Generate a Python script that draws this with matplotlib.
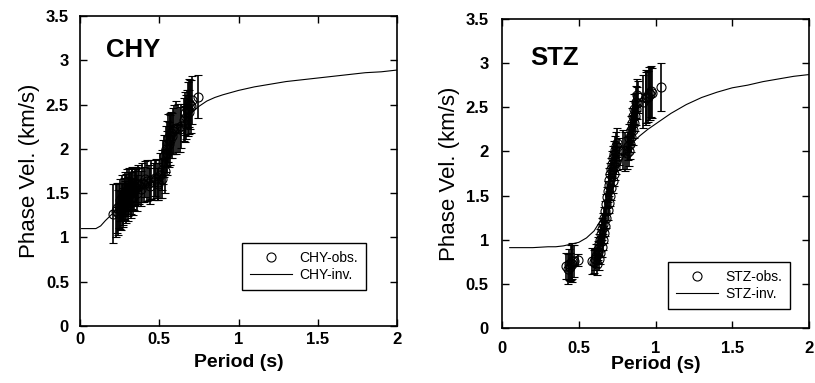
import matplotlib
matplotlib.use('Agg')
import matplotlib.pyplot as plt

plt.rcParams['font.family'] = ['Liberation Sans', 'DejaVu Sans']

# CHY: observed phase velocities (period s, velocity km/s, error km/s)
chy_period = [0.210, 0.225, 0.235, 0.245, 0.255, 0.262, 0.270, 0.278, 0.285, 0.292,
              0.300, 0.308, 0.315, 0.322, 0.330, 0.338, 0.345, 0.355, 0.365, 0.375,
              0.390, 0.405, 0.420, 0.435, 0.450, 0.465, 0.480, 0.495, 0.505, 0.515,
              0.525, 0.532, 0.540, 0.548, 0.555, 0.565, 0.575, 0.585, 0.595, 0.605,
              0.620, 0.640, 0.655, 0.665, 0.675, 0.685, 0.695, 0.705, 0.745,
              # second pass over the same band
              0.240, 0.250, 0.258, 0.266, 0.274, 0.282, 0.290, 0.298, 0.305, 0.312,
              0.320, 0.328, 0.336, 0.350, 0.360, 0.385, 0.410, 0.440, 0.470, 0.490,
              0.520, 0.535, 0.550, 0.560, 0.570, 0.580, 0.630, 0.660, 0.670, 0.680,
              0.690, 0.700]
chy_vel = [1.27, 1.30, 1.33, 1.36, 1.32, 1.40, 1.38, 1.44, 1.42, 1.48,
           1.46, 1.50, 1.52, 1.50, 1.55, 1.53, 1.57, 1.56, 1.60, 1.58,
           1.62, 1.60, 1.64, 1.62, 1.65, 1.63, 1.66, 1.63, 1.70, 1.76,
           1.85, 1.92, 2.00, 2.06, 2.12, 2.15, 2.18, 2.20, 2.22, 2.24,
           2.24, 2.26, 2.33, 2.40, 2.45, 2.52, 2.50, 2.55, 2.59,
           1.28, 1.42, 1.30, 1.46, 1.34, 1.50, 1.38, 1.54, 1.40, 1.56,
           1.44, 1.58, 1.46, 1.60, 1.50, 1.55, 1.66, 1.58, 1.67, 1.60,
           1.66, 1.75, 1.95, 2.05, 2.10, 2.15, 2.22, 2.28, 2.36, 2.45,
           2.42, 2.48]
chy_err = [0.33, 0.30, 0.28, 0.25, 0.22, 0.22, 0.24, 0.23, 0.22, 0.24,
           0.22, 0.24, 0.22, 0.24, 0.23, 0.22, 0.20, 0.21, 0.22, 0.20,
           0.22, 0.20, 0.23, 0.20, 0.22, 0.21, 0.22, 0.21, 0.25, 0.23,
           0.25, 0.24, 0.26, 0.25, 0.27, 0.25, 0.24, 0.26, 0.28, 0.30,
           0.27, 0.25, 0.24, 0.24, 0.22, 0.27, 0.28, 0.27, 0.24,
           0.25, 0.24, 0.22, 0.25, 0.22, 0.24, 0.22, 0.23, 0.22, 0.22,
           0.22, 0.21, 0.21, 0.20, 0.20, 0.20, 0.20, 0.20, 0.20, 0.18,
           0.22, 0.25, 0.25, 0.25, 0.28, 0.25, 0.25, 0.20, 0.25, 0.30,
           0.25, 0.30]

# CHY: inverted model dispersion curve
chy_inv_period = [0.01, 0.05, 0.10, 0.13, 0.16, 0.20, 0.25, 0.30, 0.35, 0.40, 0.45,
                  0.50, 0.53, 0.56, 0.60, 0.65, 0.70, 0.75, 0.80, 0.85, 0.90, 1.0,
                  1.1, 1.2, 1.3, 1.4, 1.5, 1.6, 1.7, 1.8, 1.9, 2.0]
chy_inv_vel = [1.10, 1.10, 1.10, 1.13, 1.19, 1.26, 1.36, 1.45, 1.52, 1.57, 1.61,
               1.66, 1.78, 1.98, 2.18, 2.30, 2.40, 2.48, 2.54, 2.58, 2.61, 2.66,
               2.70, 2.73, 2.76, 2.78, 2.80, 2.82, 2.84, 2.86, 2.87, 2.89]

# STZ: observed phase velocities
stz_period = [0.415, 0.428, 0.438, 0.448, 0.458, 0.468, 0.494, 0.585, 0.600, 0.608,
              0.615, 0.622, 0.628, 0.634, 0.640, 0.646, 0.652, 0.658, 0.664, 0.670,
              0.676, 0.682, 0.688, 0.694, 0.700, 0.706, 0.712, 0.718, 0.724, 0.730,
              0.736, 0.742, 0.750, 0.785, 0.800, 0.815, 0.822, 0.830, 0.838, 0.846,
              0.854, 0.862, 0.870, 0.878, 0.920, 0.935, 0.950, 0.965, 0.980, 1.035,
              # second pass over the same band
              0.440, 0.455, 0.620, 0.630, 0.640, 0.648, 0.656, 0.664, 0.672, 0.680,
              0.688, 0.696, 0.704, 0.712, 0.720, 0.728, 0.736, 0.744, 0.752, 0.760,
              0.826, 0.834, 0.842, 0.850, 0.858, 0.866, 0.874, 0.882, 0.888, 0.940,
              0.955, 0.970]
stz_vel = [0.70, 0.67, 0.72, 0.74, 0.73, 0.76, 0.77, 0.76, 0.75, 0.78,
           0.82, 0.86, 0.90, 0.95, 1.00, 1.06, 1.12, 1.18, 1.25, 1.32,
           1.40, 1.48, 1.55, 1.62, 1.68, 1.74, 1.80, 1.86, 1.92, 1.97,
           2.02, 2.06, 2.10, 2.02, 2.00, 1.98, 2.06, 2.15, 2.24, 2.32,
           2.40, 2.48, 2.56, 2.64, 2.56, 2.60, 2.62, 2.65, 2.66, 2.73,
           0.69, 0.76, 0.72, 0.78, 0.85, 0.92, 1.00, 1.08, 1.16, 1.25,
           1.34, 1.42, 1.50, 1.58, 1.66, 1.74, 1.82, 1.88, 1.94, 2.00,
           2.00, 2.08, 2.16, 2.24, 2.32, 2.40, 2.48, 2.55, 2.62, 2.62,
           2.66, 2.68]
stz_err = [0.15, 0.17, 0.18, 0.20, 0.21, 0.18, 0.07, 0.15, 0.13, 0.12,
           0.13, 0.12, 0.13, 0.12, 0.12, 0.12, 0.12, 0.12, 0.12, 0.12,
           0.12, 0.12, 0.12, 0.12, 0.13, 0.13, 0.13, 0.14, 0.14, 0.15,
           0.15, 0.16, 0.16, 0.22, 0.22, 0.18, 0.16, 0.16, 0.16, 0.17,
           0.17, 0.17, 0.18, 0.18, 0.30, 0.30, 0.29, 0.30, 0.28, 0.27,
           0.16, 0.20, 0.12, 0.12, 0.12, 0.12, 0.12, 0.12, 0.12, 0.12,
           0.12, 0.12, 0.12, 0.13, 0.13, 0.13, 0.14, 0.14, 0.15, 0.15,
           0.17, 0.17, 0.17, 0.17, 0.17, 0.17, 0.18, 0.18, 0.18, 0.30,
           0.30, 0.29]

# STZ: inverted model dispersion curve
stz_inv_period = [0.05, 0.10, 0.20, 0.30, 0.35, 0.40, 0.45, 0.50, 0.55, 0.60, 0.65,
                  0.70, 0.75, 0.80, 0.85, 0.90, 0.95, 1.0, 1.1, 1.2, 1.3, 1.4,
                  1.5, 1.6, 1.7, 1.8, 1.9, 2.0]
stz_inv_vel = [0.91, 0.91, 0.91, 0.92, 0.92, 0.93, 0.95, 0.97, 1.02, 1.10, 1.24,
               1.48, 1.78, 1.98, 2.10, 2.18, 2.25, 2.31, 2.43, 2.53, 2.61, 2.67,
               2.72, 2.75, 2.79, 2.82, 2.85, 2.87]

fig = plt.figure(figsize=(8.15, 3.83), dpi=100)
ax1 = fig.add_axes([0.0982, 0.1488, 0.389, 0.8094])
ax2 = fig.add_axes([0.616, 0.1436, 0.3767, 0.807])


def draw_panel(ax, name, period, vel, err, inv_period, inv_vel,
               name_xy, leg_anchor, xpad, ypad, xlabelpad):
    ax.plot(inv_period, inv_vel, color='k', lw=0.8, zorder=3)
    ax.errorbar(period, vel, yerr=err, fmt='o', ms=6.5, mfc='none', mec='k', mew=0.8,
                ecolor='k', elinewidth=1.2, capsize=2.6, capthick=1.0, zorder=4)
    ax.plot([], [], 'o', ms=6.5, mfc='none', mec='k', mew=0.8, label=name + '-obs.')
    ax.plot([], [], color='k', lw=0.8, label=name + '-inv.')

    ax.set_xlim(0, 2)
    ax.set_ylim(0, 3.5)
    ax.set_xticks([0, 0.5, 1, 1.5, 2])
    ax.set_xticklabels(['0', '0.5', '1', '1.5', '2'])
    ax.set_yticks([0, 0.5, 1, 1.5, 2, 2.5, 3, 3.5])
    ax.set_yticklabels(['0', '0.5', '1', '1.5', '2', '2.5', '3', '3.5'])
    ax.tick_params(direction='in', length=5, width=1, top=True, right=True,
                   labelsize=12)
    ax.tick_params(axis='x', pad=xpad)
    ax.tick_params(axis='y', pad=ypad)
    for lab in ax.get_xticklabels() + ax.get_yticklabels():
        lab.set_fontweight('bold')
    for sp in ax.spines.values():
        sp.set_linewidth(1.2)

    ax.set_xlabel('Period (s)', fontsize=14, fontweight='bold', labelpad=xlabelpad)
    ax.set_ylabel('Phase Vel. (km/s)', fontsize=16)
    ax.text(name_xy[0], name_xy[1], name, transform=ax.transAxes,
            fontsize=18.5, fontweight='bold', va='baseline')

    leg = ax.legend(loc='upper left', bbox_to_anchor=leg_anchor, fontsize=10,
                    frameon=True, fancybox=False, framealpha=1, edgecolor='k',
                    handlelength=3.0, handletextpad=0.5, labelspacing=0.2,
                    borderpad=0.6, borderaxespad=0)
    leg.get_frame().set_linewidth(1.0)


draw_panel(ax1, 'CHY', chy_period, chy_vel, chy_err, chy_inv_period, chy_inv_vel,
           (0.082, 0.868), (0.511, 0.268), 4, 8, 5)
draw_panel(ax2, 'STZ', stz_period, stz_vel, stz_err, stz_inv_period, stz_inv_vel,
           (0.091, 0.851), (0.541, 0.214), 9.5, 9.5, 0)

fig.savefig('out.png', dpi=100)
